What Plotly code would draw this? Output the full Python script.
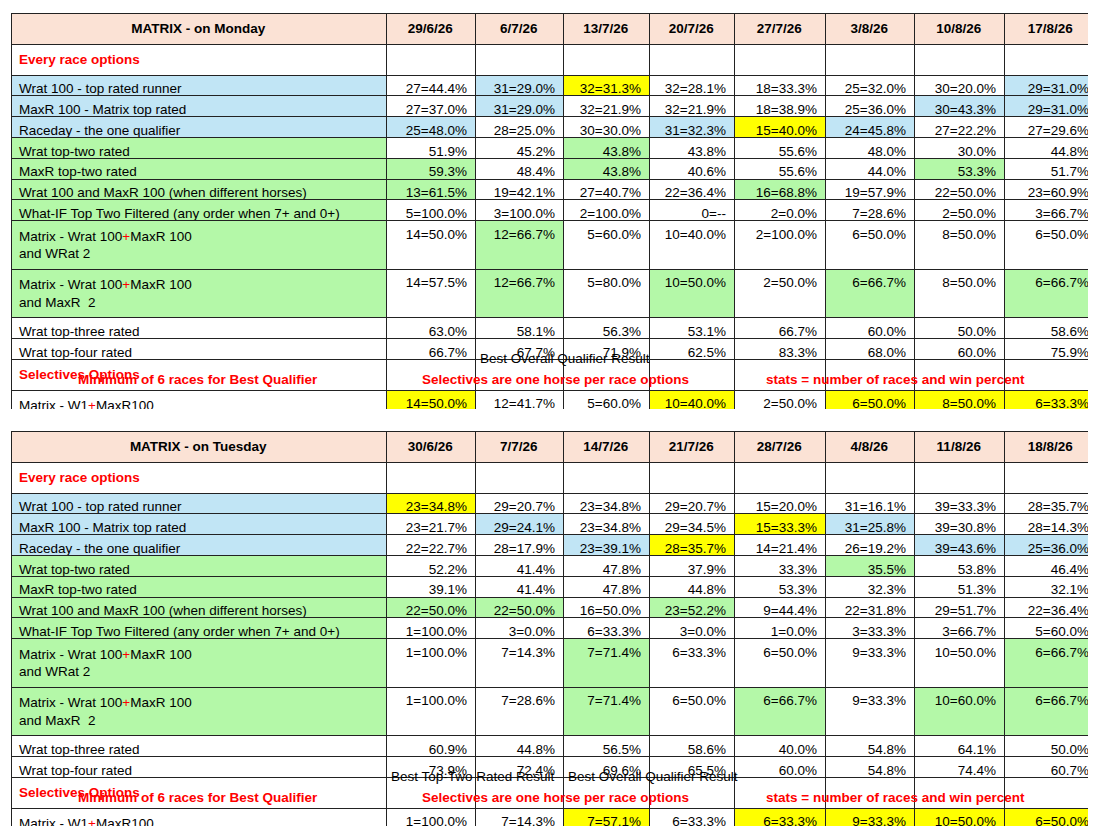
import plotly.graph_objects as go

W, H = 1096, 826

labels = [
    "Every race options",
    "Wrat 100 - top rated runner",
    "MaxR 100 - Matrix top rated",
    "Raceday - the one qualifier",
    "Wrat top-two rated",
    "MaxR top-two rated",
    "Wrat 100 and MaxR 100 (when different horses)",
    "What-IF Top Two Filtered (any order when 7+ and 0+)",
    "Matrix - Wrat 100+MaxR 100 and WRat 2",
    "Matrix - Wrat 100+MaxR 100 and MaxR  2",
    "Wrat top-three rated",
    "Wrat top-four rated",
    "Selectives Options",
    "Matrix - W1+MaxR100",
    "Matrix - W1+*EO+MR100",
    "Best Top-Rated Result",
    "",
]

mon_dates = ["29/6/26", "6/7/26", "13/7/26", "20/7/26", "27/7/26", "3/8/26", "10/8/26", "17/8/26"]
tue_dates = ["30/6/26", "7/7/26", "14/7/26", "21/7/26", "28/7/26", "4/8/26", "11/8/26", "18/8/26"]

mon_rows = [
    [""] * 8,
    ["27=44.4%", "31=29.0%", "32=31.3%", "32=28.1%", "18=33.3%", "25=32.0%", "30=20.0%", "29=31.0%"],
    ["27=37.0%", "31=29.0%", "32=21.9%", "32=21.9%", "18=38.9%", "25=36.0%", "30=43.3%", "29=31.0%"],
    ["25=48.0%", "28=25.0%", "30=30.0%", "31=32.3%", "15=40.0%", "24=45.8%", "27=22.2%", "27=29.6%"],
    ["51.9%", "45.2%", "43.8%", "43.8%", "55.6%", "48.0%", "30.0%", "44.8%"],
    ["59.3%", "48.4%", "43.8%", "40.6%", "55.6%", "44.0%", "53.3%", "51.7%"],
    ["13=61.5%", "19=42.1%", "27=40.7%", "22=36.4%", "16=68.8%", "19=57.9%", "22=50.0%", "23=60.9%"],
    ["5=100.0%", "3=100.0%", "2=100.0%", "0=--", "2=0.0%", "7=28.6%", "2=50.0%", "3=66.7%"],
    ["14=50.0%", "12=66.7%", "5=60.0%", "10=40.0%", "2=100.0%", "6=50.0%", "8=50.0%", "6=50.0%"],
    ["14=57.5%", "12=66.7%", "5=80.0%", "10=50.0%", "2=50.0%", "6=66.7%", "8=50.0%", "6=66.7%"],
    ["63.0%", "58.1%", "56.3%", "53.1%", "66.7%", "60.0%", "50.0%", "58.6%"],
    ["66.7%", "67.7%", "71.9%", "62.5%", "83.3%", "68.0%", "60.0%", "75.9%"],
    [""] * 8,
    ["14=50.0%", "12=41.7%", "5=60.0%", "10=40.0%", "2=50.0%", "6=50.0%", "8=50.0%", "6=33.3%"],
    ["4=50.0%", "6=50.0%", "1=100.0%", "6=33.3%", "2=50.0%", "3=100.0%", "3=66.7%", "3=0.0%"],
    [""] * 8,
    [""] * 8,
]

tue_rows = [
    [""] * 8,
    ["23=34.8%", "29=20.7%", "23=34.8%", "29=20.7%", "15=20.0%", "31=16.1%", "39=33.3%", "28=35.7%"],
    ["23=21.7%", "29=24.1%", "23=34.8%", "29=34.5%", "15=33.3%", "31=25.8%", "39=30.8%", "28=14.3%"],
    ["22=22.7%", "28=17.9%", "23=39.1%", "28=35.7%", "14=21.4%", "26=19.2%", "39=43.6%", "25=36.0%"],
    ["52.2%", "41.4%", "47.8%", "37.9%", "33.3%", "35.5%", "53.8%", "46.4%"],
    ["39.1%", "41.4%", "47.8%", "44.8%", "53.3%", "32.3%", "51.3%", "32.1%"],
    ["22=50.0%", "22=50.0%", "16=50.0%", "23=52.2%", "9=44.4%", "22=31.8%", "29=51.7%", "22=36.4%"],
    ["1=100.0%", "3=0.0%", "6=33.3%", "3=0.0%", "1=0.0%", "3=33.3%", "3=66.7%", "5=60.0%"],
    ["1=100.0%", "7=14.3%", "7=71.4%", "6=33.3%", "6=50.0%", "9=33.3%", "10=50.0%", "6=66.7%"],
    ["1=100.0%", "7=28.6%", "7=71.4%", "6=50.0%", "6=66.7%", "9=33.3%", "10=60.0%", "6=66.7%"],
    ["60.9%", "44.8%", "56.5%", "58.6%", "40.0%", "54.8%", "64.1%", "50.0%"],
    ["73.9%", "72.4%", "69.6%", "65.5%", "60.0%", "54.8%", "74.4%", "60.7%"],
    [""] * 8,
    ["1=100.0%", "7=14.3%", "7=57.1%", "6=33.3%", "6=33.3%", "9=33.3%", "10=50.0%", "6=50.0%"],
    ["1=100.0%", "7=28.6%", "6=50.0%", "1=0.0%", "3=33.3%", "2=0.0%", "4=25.0%", "3=66.7%"],
    [""] * 8,
    [""] * 8,
]

# highlight codes per cell: b=blue, g=green, y=yellow, l=light yellow, p=peach
mon_marks = {
    (1, 1): "b", (1, 2): "y", (1, 7): "b",
    (2, 1): "b", (2, 6): "b", (2, 7): "b",
    (3, 0): "b", (3, 3): "b", (3, 4): "y", (3, 5): "b",
    (4, 2): "g",
    (5, 0): "g", (5, 2): "g", (5, 6): "g",
    (6, 0): "g", (6, 4): "g",
    (8, 1): "g",
    (9, 1): "g", (9, 3): "g", (9, 5): "g", (9, 7): "g",
    (13, 0): "y", (13, 3): "y", (13, 5): "y", (13, 6): "y", (13, 7): "y",
    (14, 1): "y",
    (15, 0): "p", (15, 1): "l", (15, 2): "l", (15, 3): "l",
    (15, 4): "p", (15, 5): "p", (15, 6): "p", (15, 7): "p",
}
tue_marks = {
    (1, 0): "y",
    (2, 1): "b", (2, 4): "y", (2, 5): "b",
    (3, 2): "b", (3, 3): "y", (3, 6): "b", (3, 7): "b",
    (4, 5): "g",
    (6, 0): "g", (6, 1): "g", (6, 3): "g",
    (8, 2): "g", (8, 7): "g",
    (9, 2): "g", (9, 4): "g", (9, 6): "g", (9, 7): "g",
    (13, 2): "y", (13, 4): "y", (13, 5): "y", (13, 6): "y", (13, 7): "y",
    (14, 1): "y",
    (15, 0): "b", (15, 1): "b", (15, 2): "l", (15, 3): "l",
    (15, 4): "p", (15, 5): "p", (15, 6): "p", (15, 7): "p",
}

COL = {"b": "#C1E5F5", "g": "#B4F8A8", "y": "#FFFF00", "l": "#FFFF66", "p": "#FBE2D5", "w": "white"}
label_fill = ["w", "b", "b", "b", "g", "g", "g", "g", "g", "g", "w", "w", "w", "w", "w", "b", "p"]
section_rows = {0, 12}

colw = [375, 89, 88, 86, 85, 91, 89, 90, 93]
x0, x1 = 3, 1089
ROWH = 20.8


def fmt_label(s, i):
    s = s.replace("+", "<span style='color:#FF0000'>+</span>") if "Matrix" in s else s
    if i in section_rows:
        return "<b>" + s + "</b>"
    return s


def make_table(title, dates, rows, marks, ytop, ybot):
    cols = [[fmt_label(s, i) for i, s in enumerate(labels)]]
    fills = [[COL[c] for c in label_fill]]
    fcolors = [["#FF0000" if i in section_rows else "black" for i in range(len(labels))]]
    for j in range(8):
        cols.append([r[j] for r in rows])
        f = []
        for i in range(len(labels)):
            f.append(COL[marks.get((i, j), "p" if i == 16 else "w")])
        fills.append(f)
        fcolors.append(["black"] * len(labels))
    return go.Table(
        domain=dict(x=[x0 / W, x1 / W], y=[1 - ybot / H, 1 - ytop / H]),
        columnwidth=colw,
        header=dict(
            values=["<b>" + title + "</b>"] + ["<b>" + d + "</b>" for d in dates],
            fill_color="#FBE2D5", line=dict(color="#222", width=1),
            align="center", height=ROWH,
            font=dict(family="Liberation Sans", size=13.5, color="black"),
        ),
        cells=dict(
            values=cols,
            fill_color=fills, line=dict(color="#222", width=1),
            align=["left"] + ["right"] * 8, height=ROWH,
            font=dict(family="Liberation Sans", size=13.5, color=fcolors),
        ),
    )


fig = go.Figure()
fig.add_trace(make_table("MATRIX - on Monday", mon_dates, mon_rows, mon_marks, 5, 401))
fig.add_trace(make_table("MATRIX - on Tuesday", tue_dates, tue_rows, tue_marks, 423, 820))


def note(x, y, text, anchor="left", color="black", bold=False):
    t = "<b>" + text + "</b>" if bold else text
    fig.add_annotation(x=x / W, y=1 - y / H, xref="paper", yref="paper", text=t,
                       showarrow=False, xanchor=anchor, yanchor="middle",
                       font=dict(family="Liberation Sans", size=13.5, color=color))


footer_texts = ["Minimum of 6 races for Best Qualifier",
                "Selectives are one horse per race options",
                "stats = number of races and win percent"]
for ytop in (5, 423):
    yf = ytop + 18 * ROWH - ROWH / 2 + 2
    note(190, yf, footer_texts[0], "center", "#FF0000", True)
    note(547, yf, footer_texts[1], "center", "#FF0000", True)
    note(887, yf, footer_texts[2], "center", "#FF0000", True)

note(470, 5 + 17 * ROWH - ROWH / 2 + 2, "Best Overall Qualifier Result")
note(381, 423 + 17 * ROWH - ROWH / 2 + 2, "Best Top-Two Rated Result")
note(558, 423 + 17 * ROWH - ROWH / 2 + 2, "Best Overall Qualifier Result")

fig.update_layout(width=W, height=H, margin=dict(l=0, r=0, t=0, b=0),
                  paper_bgcolor="white", showlegend=False)
fig.write_html("out.html")
